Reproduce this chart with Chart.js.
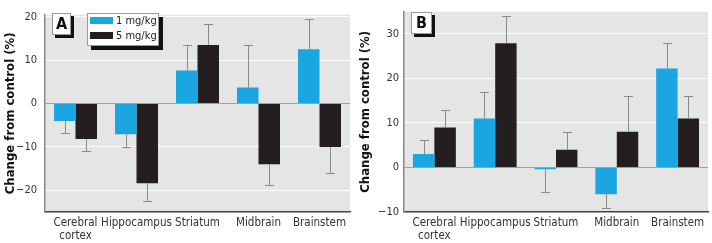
<!DOCTYPE html>
<html>
<head>
<meta charset="utf-8">
<script src="https://cdn.jsdelivr.net/npm/chart.js@4/dist/chart.umd.min.js"></script>
<style>
  html, body { margin: 0; padding: 0; background: #fff; }
  .panel { position: absolute; top: 0; height: 243px; }
  #wrapA { left: 0; width: 355px; }
  #wrapB { left: 355px; width: 357px; }
</style>
</head>
<body>
<div class="panel" id="wrapA"><canvas id="chartA"></canvas></div>
<div class="panel" id="wrapB"><canvas id="chartB"></canvas></div>
<script>
// regions
const regions = [['Cerebral', 'cortex'], 'Hippocampus', 'Striatum', 'Midbrain', 'Brainstem'];
const doseLabels = ['1 mg/kg', '5 mg/kg'];

// panel A
const a1 = [-4, -7.1, 7.6, 3.7, 12.5];
const a1Err = [2.9, 2.9, 5.9, 9.8, 6.9];
const a5 = [-8.2, -18.4, 13.5, -14, -10];
const a5Err = [2.8, 4.0, 4.9, 4.8, 5.9];
const ticksA = [-20, -10, 0, 10, 20];

// panel B
const b1 = [3, 11, -0.4, -6, 22.2];
const b1Err = [3.1, 6, 5.1, 3.1, 5.7];
const b5 = [9, 27.9, 4, 8, 11];
const b5Err = [4, 6.1, 4, 8, 5];
const ticksB = [-10, 0, 10, 20, 30];

const BLUE = '#1aa6e0';
const BLACK = '#231f20';
const FONT = "'DejaVu Sans Condensed', 'Liberation Sans', sans-serif";

// plot background, error bars, panel letter and legend box
const panelPlugin = {
    id: 'panel',
    beforeDraw(chart) {
        const {ctx, chartArea: c} = chart;
        ctx.save();
        ctx.fillStyle = '#e5e5e5';
        ctx.fillRect(c.left, c.top, c.right - c.left, c.bottom - c.top);
        ctx.restore();
    },
    afterDatasetsDraw(chart, args, opts) {
        const {ctx} = chart;
        const y = chart.scales.y;
        ctx.save();
        ctx.strokeStyle = '#8a8a8a';
        ctx.lineWidth = 1;
        chart.data.datasets.forEach((ds, i) => {
            const meta = chart.getDatasetMeta(i);
            meta.data.forEach((bar, j) => {
                const v = ds.data[j];
                const e = ds.errors[j];
                const end = v >= 0 ? v + e : v - e;
                const x = Math.round(bar.x) + 0.5;
                const y0 = y.getPixelForValue(v);
                const y1 = Math.round(y.getPixelForValue(end)) + 0.5;
                ctx.beginPath();
                ctx.moveTo(x, y0);
                ctx.lineTo(x, y1);
                ctx.moveTo(x - 4.5, y1);
                ctx.lineTo(x + 4.5, y1);
                ctx.stroke();
            });
        });
        ctx.restore();
    },
    afterDraw(chart, args, opts) {
        const {ctx} = chart;
        ctx.save();
        // letter box
        const lb = opts.letterBox;
        ctx.fillStyle = '#111';
        ctx.fillRect(lb.x + 3, lb.y + 3, lb.w, lb.h);
        ctx.fillStyle = '#fff';
        ctx.fillRect(lb.x, lb.y, lb.w, lb.h);
        ctx.strokeStyle = '#999';
        ctx.lineWidth = 1;
        ctx.strokeRect(lb.x + 0.5, lb.y + 0.5, lb.w - 1, lb.h - 1);
        ctx.fillStyle = '#111';
        ctx.font = "bold 16px " + FONT;
        ctx.textAlign = 'center';
        ctx.textBaseline = 'middle';
        ctx.fillText(opts.letter, lb.x + lb.w / 2, lb.y + lb.h / 2 + 1);

        if (opts.legend) {
            const b = opts.legend;
            ctx.fillStyle = '#111';
            ctx.fillRect(b.x + 4, b.y + 4, b.w, b.h);
            ctx.fillStyle = '#fff';
            ctx.fillRect(b.x, b.y, b.w, b.h);
            ctx.strokeStyle = '#999';
            ctx.strokeRect(b.x + 0.5, b.y + 0.5, b.w - 1, b.h - 1);
            ctx.font = "11px " + FONT;
            ctx.textAlign = 'left';
            ctx.textBaseline = 'middle';
            chart.data.datasets.forEach((ds, i) => {
                const ry = b.y + 4 + i * 15;
                ctx.fillStyle = ds.backgroundColor;
                ctx.fillRect(b.x + 3, ry, 23, 7);
                ctx.fillStyle = '#222';
                ctx.fillText(ds.label, b.x + 29, ry + 4);
            });
        }
        ctx.restore();
    }
};

function makeChart(id, d1, e1, d5, e5, yMin, yMax, tickList, axisWidth, tickPad, padRight, panelOpts) {
    return new Chart(document.getElementById(id), {
        type: 'bar',
        data: {
            labels: regions,
            datasets: [
                { label: doseLabels[0], data: d1, errors: e1, backgroundColor: BLUE },
                { label: doseLabels[1], data: d5, errors: e5, backgroundColor: BLACK }
            ]
        },
        options: {
            responsive: true,
            maintainAspectRatio: false,
            animation: false,
            layout: { padding: { left: 0, top: 8, right: padRight, bottom: 0 } },
            datasets: { bar: { categoryPercentage: 0.705, barPercentage: 1.0 } },
            plugins: {
                legend: { display: false },
                tooltip: { enabled: false },
                panel: panelOpts
            },
            scales: {
                x: {
                    grid: { display: false, drawTicks: false },
                    border: { display: true, color: '#444', width: 1.5 },
                    ticks: {
                        color: '#333', font: { family: FONT, size: 11.5, lineHeight: 1.15 },
                        padding: 4, maxRotation: 0, autoSkip: false
                    },
                    afterFit(scale) { scale.height = 31; }
                },
                y: {
                    min: yMin,
                    max: yMax,
                    afterBuildTicks(scale) { scale.ticks = tickList.map(v => ({ value: v })); },
                    grid: {
                        drawTicks: false,
                        color: ctx => ctx.tick && ctx.tick.value === 0 ? '#a0a0a0' : '#ffffff',
                        lineWidth: 1
                    },
                    border: { display: true, color: '#8a8a8a', width: 1.5 },
                    ticks: {
                        color: '#333',
                        font: { family: FONT, size: 11 },
                        padding: tickPad,
                        callback: v => v < 0 ? '\u2212' + Math.abs(v) : String(v)
                    },
                    title: {
                        display: true,
                        text: 'Change from control (%)',
                        color: '#111',
                        font: { family: FONT, size: 13, weight: 'bold' },
                        padding: { top: 3, bottom: 0 }
                    },
                    afterFit(scale) { scale.width = axisWidth; }
                }
            }
        },
        plugins: [panelPlugin]
    });
}

makeChart('chartA', a1, a1Err, a5, a5Err, -25, 20.5, ticksA, 45, 8, 5, {
    letter: 'A',
    letterBox: { x: 52, y: 13, w: 19, h: 22 },
    legend: { x: 87, y: 13, w: 72, h: 33 }
});
makeChart('chartB', b1, b1Err, b5, b5Err, -10, 35, ticksB, 49, 5, 4, {
    letter: 'B',
    letterBox: { x: 56, y: 12, w: 21, h: 22 }
});
</script>
</body>
</html>
